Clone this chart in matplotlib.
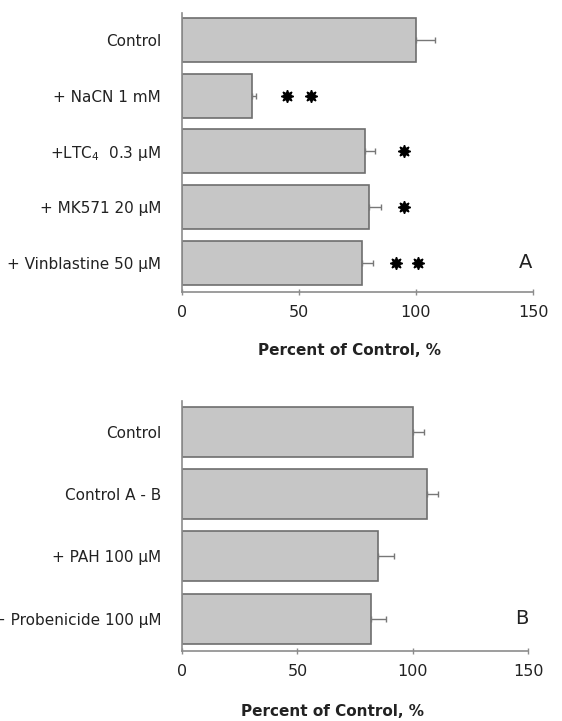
import numpy as np
import matplotlib
matplotlib.use('Agg')
import matplotlib.pyplot as plt
from matplotlib import transforms

# panel A: transport in presence of inhibitors
labels_a = ['Control', '+ NaCN 1 mM', '+LTC$_4$  0.3 \u00b5M', '+ MK571 20 \u00b5M', '+ Vinblastine 50 \u00b5M']
values_a = [100, 30, 78, 80, 77]
errors_a = [8, 1.5, 4.5, 5, 4.5]
stars_a = [[], [45, 55], [95], [95], [91.5, 101]]

# panel B: organic anion transport inhibitors
labels_b = ['Control', 'Control A - B', '+ PAH 100 \u00b5M', '+ Probenicide 100 \u00b5M']
values_b = [100, 106, 85, 82]
errors_b = [5, 5, 7, 6.5]

xticks = [0, 50, 100, 150]

plt.rcParams['font.family'] = ['DejaVu Sans']
fig = plt.figure(figsize=(5.62, 7.21), dpi=100)

axcol = '#8c8c8c'
barface = '#c6c6c6'
baredge = '#6e6e6e'

def panel(ax, labels, values, errors, stars, letter, ylims, height):
    y = np.arange(len(labels))
    ax.barh(y, values, height=height, color=barface, edgecolor=baredge, linewidth=1.2, zorder=2)
    ax.errorbar(values, y, xerr=[np.zeros(len(values)), errors], fmt='none',
                ecolor='#777777', elinewidth=1.0, capsize=2.2, capthick=1.0, zorder=3)
    for yi, xs in zip(y, stars):
        for xs_ in xs:
            ax.plot(xs_, yi, marker=(8, 1, 0), markersize=9, color='black', zorder=4)
    ax.set_xlim(0, 150)
    ax.set_ylim(*ylims)
    ax.set_yticks(y)
    ax.set_yticklabels(labels, fontsize=11, color='#222222')
    ax.set_xticks(xticks)
    ax.set_xticklabels([str(t) for t in xticks], fontsize=11.5, color='#222222')
    offset = transforms.ScaledTranslation(6 / 100, 0, fig.dpi_scale_trans)
    for lab in ax.get_xticklabels():
        lab.set_transform(lab.get_transform() + offset)
    ax.tick_params(axis='y', length=0, pad=15)
    ax.tick_params(axis='x', direction='inout', length=5, width=1, color=axcol, pad=7)
    for s in ['top', 'right']:
        ax.spines[s].set_visible(False)
    for s in ['left', 'bottom']:
        ax.spines[s].set_color(axcol)
        ax.spines[s].set_linewidth(1.2)
    ax.text(147, len(labels) - 1, letter, fontsize=14, ha='center', va='center', color='#222222')

axA = fig.add_axes([0.3238, 0.595, 0.6246, 0.387])
panel(axA, labels_a, values_a, errors_a, stars_a, 'A', (4.52, -0.48), 0.79)

axB = fig.add_axes([0.3238, 0.0971, 0.6162, 0.3472])
panel(axB, labels_b, values_b, errors_b, [[]] * 4, 'B', (3.52, -0.5), 0.8)

fig.text(0.621, 0.5132, 'Percent of Control, %', fontsize=11, fontweight='bold',
         ha='center', va='center', color='#222222')
fig.text(0.5925, 0.0125, 'Percent of Control, %', fontsize=11, fontweight='bold',
         ha='center', va='center', color='#222222')

plt.savefig('out.png', dpi=100)
